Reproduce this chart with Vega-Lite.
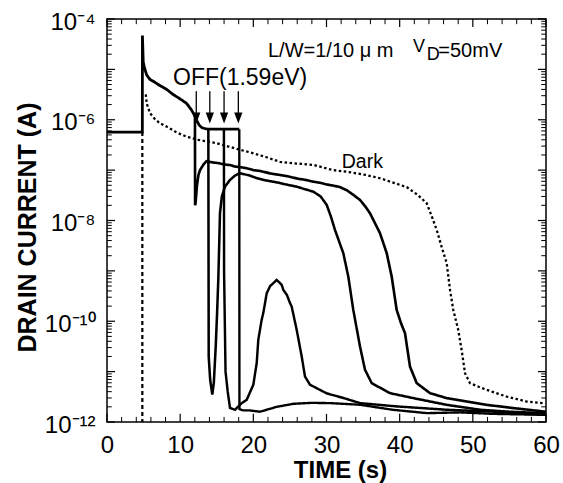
{
  "$schema": "https://vega.github.io/schema/vega-lite/v6.json",
  "width": 439,
  "height": 403,
  "autosize": {"type": "none"},
  "padding": {"left": 107, "top": 19, "right": 17, "bottom": 61},
  "background": "white",
  "config": {
    "view": {"stroke": "black", "strokeWidth": 1.5},
    "font": "Liberation Sans",
    "axis": {"labelColor": "black", "titleColor": "black", "labelFont": "Liberation Sans", "titleFont": "Liberation Sans"}
  },
  "datasets": {
    "curves": [
      {"s": "pre", "t": 0, "i": 5.7e-7}, {"s": "pre", "t": 4.83, "i": 5.7e-7}, {"s": "pre", "t": 4.84, "i": 4.7e-5},
      {"s": "pre", "t": 4.9, "i": 2.5e-5}, {"s": "pre", "t": 4.95, "i": 1.4e-5}, {"s": "pre", "t": 5.1, "i": 1.1e-5},
      {"s": "pre", "t": 5.43, "i": 7.7e-6}, {"s": "pre", "t": 5.88, "i": 6.3e-6}, {"s": "pre", "t": 6.5, "i": 5.6e-6},
      {"s": "pre", "t": 7.2, "i": 4.8e-6}, {"s": "pre", "t": 8.16, "i": 4.0e-6}, {"s": "pre", "t": 9.0, "i": 3.2e-6},
      {"s": "pre", "t": 9.8, "i": 2.7e-6}, {"s": "pre", "t": 10.43, "i": 2.35e-6}, {"s": "pre", "t": 10.89, "i": 2.1e-6},
      {"s": "pre", "t": 11.5, "i": 1.6e-6}, {"s": "pre", "t": 12.0, "i": 1.2e-6},
      {"s": "flat", "t": 12.0, "i": 1.2e-6}, {"s": "flat", "t": 12.3, "i": 9.5e-7}, {"s": "flat", "t": 12.6, "i": 7.8e-7},
      {"s": "flat", "t": 13.0, "i": 6.9e-7}, {"s": "flat", "t": 13.5, "i": 6.6e-7}, {"s": "flat", "t": 14.0, "i": 6.5e-7},
      {"s": "flat", "t": 18.08, "i": 6.5e-7},
      {"s": "A", "t": 12.02, "i": 1.2e-6}, {"s": "A", "t": 12.04, "i": 2e-8}, {"s": "A", "t": 12.1, "i": 2.2e-8},
      {"s": "A", "t": 12.3, "i": 5e-8}, {"s": "A", "t": 12.5, "i": 8e-8}, {"s": "A", "t": 12.71, "i": 1.0e-7},
      {"s": "A", "t": 13.2, "i": 1.3e-7}, {"s": "A", "t": 13.6, "i": 1.5e-7}, {"s": "A", "t": 14.5, "i": 1.42e-7},
      {"s": "A", "t": 15.2, "i": 1.38e-7}, {"s": "A", "t": 16.0, "i": 1.3e-7}, {"s": "A", "t": 16.8, "i": 1.26e-7},
      {"s": "A", "t": 17.5, "i": 1.18e-7}, {"s": "A", "t": 18.3, "i": 1.14e-7}, {"s": "A", "t": 19.09, "i": 1.09e-7},
      {"s": "A", "t": 20.0, "i": 1.0e-7}, {"s": "A", "t": 21.0, "i": 9.6e-8}, {"s": "A", "t": 22.3, "i": 8.6e-8},
      {"s": "A", "t": 23.64, "i": 8e-8}, {"s": "A", "t": 24.8, "i": 7.5e-8}, {"s": "A", "t": 26.0, "i": 6.8e-8},
      {"s": "A", "t": 27.1, "i": 6.4e-8}, {"s": "A", "t": 28.2, "i": 5.9e-8}, {"s": "A", "t": 29.1, "i": 5.6e-8},
      {"s": "A", "t": 30.0, "i": 5.2e-8}, {"s": "A", "t": 31.0, "i": 4.9e-8}, {"s": "A", "t": 31.84, "i": 4.6e-8},
      {"s": "A", "t": 32.76, "i": 4.0e-8}, {"s": "A", "t": 33.7, "i": 3.2e-8}, {"s": "A", "t": 34.58, "i": 2.56e-8},
      {"s": "A", "t": 35.3, "i": 1.9e-8}, {"s": "A", "t": 35.94, "i": 1.4e-8}, {"s": "A", "t": 36.6, "i": 9e-9},
      {"s": "A", "t": 37.31, "i": 5.6e-9}, {"s": "A", "t": 38.23, "i": 2.25e-9}, {"s": "A", "t": 38.91, "i": 7.7e-10},
      {"s": "A", "t": 39.59, "i": 1.68e-10}, {"s": "A", "t": 40.2, "i": 9e-11}, {"s": "A", "t": 40.73, "i": 5.8e-11},
      {"s": "A", "t": 41.41, "i": 1.26e-11}, {"s": "A", "t": 42.33, "i": 5.9e-12}, {"s": "A", "t": 44.14, "i": 3.74e-12},
      {"s": "A", "t": 46.43, "i": 2.98e-12}, {"s": "A", "t": 49.16, "i": 2.55e-12}, {"s": "A", "t": 51.89, "i": 2.19e-12},
      {"s": "A", "t": 55.53, "i": 1.89e-12}, {"s": "A", "t": 59.63, "i": 1.62e-12}, {"s": "A", "t": 60, "i": 1.6e-12},
      {"s": "B", "t": 13.85, "i": 6.5e-7}, {"s": "B", "t": 13.9, "i": 2e-11}, {"s": "B", "t": 14.1, "i": 6.9e-12},
      {"s": "B", "t": 14.39, "i": 3.5e-12}, {"s": "B", "t": 14.6, "i": 6e-12}, {"s": "B", "t": 14.86, "i": 3.15e-11},
      {"s": "B", "t": 15.05, "i": 1.5e-10}, {"s": "B", "t": 15.21, "i": 6.6e-10}, {"s": "B", "t": 15.35, "i": 4e-9},
      {"s": "B", "t": 15.44, "i": 1.4e-8}, {"s": "B", "t": 15.7, "i": 3e-8}, {"s": "B", "t": 16.13, "i": 4.7e-8},
      {"s": "B", "t": 16.81, "i": 6.4e-8}, {"s": "B", "t": 17.5, "i": 7.8e-8}, {"s": "B", "t": 18.18, "i": 8.7e-8},
      {"s": "B", "t": 19.5, "i": 7.8e-8}, {"s": "B", "t": 20.4, "i": 7.0e-8}, {"s": "B", "t": 21.36, "i": 6.4e-8},
      {"s": "B", "t": 22.4, "i": 6.0e-8}, {"s": "B", "t": 23.5, "i": 5.6e-8}, {"s": "B", "t": 24.7, "i": 5.1e-8},
      {"s": "B", "t": 25.93, "i": 4.7e-8}, {"s": "B", "t": 27.0, "i": 4.2e-8}, {"s": "B", "t": 28.2, "i": 3.74e-8},
      {"s": "B", "t": 29.2, "i": 3.0e-8}, {"s": "B", "t": 30.03, "i": 2.04e-8}, {"s": "B", "t": 30.6, "i": 1.2e-8},
      {"s": "B", "t": 31.16, "i": 6.5e-9}, {"s": "B", "t": 32.3, "i": 2.24e-9}, {"s": "B", "t": 32.98, "i": 7.7e-10},
      {"s": "B", "t": 33.66, "i": 1.68e-10}, {"s": "B", "t": 34.58, "i": 3.15e-11}, {"s": "B", "t": 35.26, "i": 1.09e-11},
      {"s": "B", "t": 36.18, "i": 5.9e-12}, {"s": "B", "t": 38.68, "i": 3.74e-12}, {"s": "B", "t": 41.86, "i": 2.98e-12},
      {"s": "B", "t": 46.43, "i": 2.19e-12}, {"s": "B", "t": 50.98, "i": 1.75e-12}, {"s": "B", "t": 55.0, "i": 1.6e-12},
      {"s": "B", "t": 59.63, "i": 1.5e-12}, {"s": "B", "t": 60, "i": 1.5e-12},
      {"s": "C", "t": 15.98, "i": 6.5e-7}, {"s": "C", "t": 16.0, "i": 1e-9}, {"s": "C", "t": 16.2, "i": 1e-11},
      {"s": "C", "t": 16.5, "i": 4e-12}, {"s": "C", "t": 16.81, "i": 1.9e-12}, {"s": "C", "t": 17.49, "i": 1.75e-12},
      {"s": "C", "t": 18.41, "i": 2.37e-12}, {"s": "C", "t": 19.09, "i": 2.75e-12}, {"s": "C", "t": 20.0, "i": 5.5e-12},
      {"s": "C", "t": 20.46, "i": 1.48e-11}, {"s": "C", "t": 20.68, "i": 4.3e-11}, {"s": "C", "t": 21.14, "i": 1.07e-10},
      {"s": "C", "t": 21.36, "i": 1.45e-10}, {"s": "C", "t": 21.83, "i": 3.6e-10}, {"s": "C", "t": 22.3, "i": 5e-10},
      {"s": "C", "t": 22.73, "i": 5.7e-10}, {"s": "C", "t": 23.19, "i": 6.6e-10}, {"s": "C", "t": 23.5, "i": 6e-10},
      {"s": "C", "t": 23.87, "i": 5.3e-10}, {"s": "C", "t": 24.1, "i": 4.2e-10}, {"s": "C", "t": 24.6, "i": 3.3e-10},
      {"s": "C", "t": 25.01, "i": 2.3e-10}, {"s": "C", "t": 25.24, "i": 1.96e-10}, {"s": "C", "t": 25.93, "i": 6.7e-11},
      {"s": "C", "t": 26.61, "i": 2.0e-11}, {"s": "C", "t": 27.06, "i": 8e-12}, {"s": "C", "t": 27.74, "i": 5.5e-12},
      {"s": "C", "t": 30.03, "i": 3.7e-12}, {"s": "C", "t": 32.3, "i": 3e-12}, {"s": "C", "t": 34.58, "i": 2.37e-12},
      {"s": "C", "t": 39.59, "i": 2.04e-12}, {"s": "C", "t": 46.43, "i": 1.75e-12}, {"s": "C", "t": 53.0, "i": 1.6e-12},
      {"s": "C", "t": 59.63, "i": 1.39e-12}, {"s": "C", "t": 60, "i": 1.4e-12},
      {"s": "D", "t": 18.08, "i": 6.5e-7}, {"s": "D", "t": 18.1, "i": 1.8e-12}, {"s": "D", "t": 18.6, "i": 1.7e-12},
      {"s": "D", "t": 19.5, "i": 1.7e-12}, {"s": "D", "t": 20.91, "i": 1.6e-12}, {"s": "D", "t": 23.2, "i": 2.0e-12},
      {"s": "D", "t": 25.5, "i": 2.3e-12}, {"s": "D", "t": 28.0, "i": 2.4e-12}, {"s": "D", "t": 30.5, "i": 2.37e-12},
      {"s": "D", "t": 34.6, "i": 2.2e-12}, {"s": "D", "t": 39.0, "i": 1.75e-12}, {"s": "D", "t": 43.7, "i": 1.5e-12},
      {"s": "D", "t": 48.3, "i": 1.55e-12}, {"s": "D", "t": 52.8, "i": 1.45e-12}, {"s": "D", "t": 59.6, "i": 1.39e-12},
      {"s": "D", "t": 60, "i": 1.4e-12},
      {"s": "dark", "t": 5.3, "i": 3.2e-6}, {"s": "dark", "t": 5.43, "i": 2.1e-6}, {"s": "dark", "t": 5.88, "i": 1.35e-6},
      {"s": "dark", "t": 6.5, "i": 1.05e-6}, {"s": "dark", "t": 7.2, "i": 8.6e-7}, {"s": "dark", "t": 8.16, "i": 7.3e-7},
      {"s": "dark", "t": 9.5, "i": 5.6e-7}, {"s": "dark", "t": 10.89, "i": 4.6e-7}, {"s": "dark", "t": 12.5, "i": 4e-7},
      {"s": "dark", "t": 14.99, "i": 3.42e-7}, {"s": "dark", "t": 17.5, "i": 2.7e-7}, {"s": "dark", "t": 20.0, "i": 2.16e-7},
      {"s": "dark", "t": 21.8, "i": 1.8e-7}, {"s": "dark", "t": 23.64, "i": 1.46e-7}, {"s": "dark", "t": 26.0, "i": 1.35e-7},
      {"s": "dark", "t": 28.2, "i": 1.27e-7}, {"s": "dark", "t": 30.9, "i": 1.0e-7}, {"s": "dark", "t": 32.76, "i": 9.3e-8},
      {"s": "dark", "t": 35.4, "i": 8e-8}, {"s": "dark", "t": 37.31, "i": 6.9e-8}, {"s": "dark", "t": 39.2, "i": 5.6e-8},
      {"s": "dark", "t": 40.96, "i": 4.6e-8}, {"s": "dark", "t": 42.5, "i": 3.2e-8}, {"s": "dark", "t": 43.69, "i": 2.2e-8},
      {"s": "dark", "t": 44.4, "i": 1.2e-8}, {"s": "dark", "t": 45.06, "i": 6.5e-9}, {"s": "dark", "t": 45.8, "i": 2.8e-9},
      {"s": "dark", "t": 46.43, "i": 1.42e-9}, {"s": "dark", "t": 46.9, "i": 4e-10}, {"s": "dark", "t": 47.33, "i": 1.68e-10},
      {"s": "dark", "t": 48.01, "i": 6.7e-11}, {"s": "dark", "t": 48.5, "i": 2.5e-11}, {"s": "dark", "t": 48.93, "i": 9.3e-12},
      {"s": "dark", "t": 49.61, "i": 5.9e-12}, {"s": "dark", "t": 50.8, "i": 5e-12}, {"s": "dark", "t": 51.89, "i": 4.36e-12},
      {"s": "dark", "t": 53.3, "i": 3.7e-12}, {"s": "dark", "t": 54.63, "i": 3.2e-12}, {"s": "dark", "t": 57.36, "i": 2.55e-12},
      {"s": "dark", "t": 59.63, "i": 2.37e-12},
      {"s": "vdash", "t": 4.83, "i": 5.7e-7}, {"s": "vdash", "t": 4.83, "i": 1e-12}
    ],
    "xmajor": [{"t": 0}, {"t": 10}, {"t": 20}, {"t": 30}, {"t": 40}, {"t": 50}, {"t": 60}],
    "xminor": [{"t": 2}, {"t": 4}, {"t": 6}, {"t": 8}, {"t": 12}, {"t": 14}, {"t": 16}, {"t": 18}, {"t": 22}, {"t": 24}, {"t": 26}, {"t": 28}, {"t": 32}, {"t": 34}, {"t": 36}, {"t": 38}, {"t": 42}, {"t": 44}, {"t": 46}, {"t": 48}, {"t": 52}, {"t": 54}, {"t": 56}, {"t": 58}],
    "ymajor": [{"t": 1e-12}, {"t": 1e-11}, {"t": 1e-10}, {"t": 1e-9}, {"t": 1e-8}, {"t": 1e-7}, {"t": 1e-6}, {"t": 1e-5}, {"t": 1e-4}],
    "yminor": [
      {"t": 2e-12}, {"t": 3e-12}, {"t": 4e-12}, {"t": 5e-12}, {"t": 6e-12}, {"t": 7e-12}, {"t": 8e-12}, {"t": 9e-12},
      {"t": 2e-11}, {"t": 3e-11}, {"t": 4e-11}, {"t": 5e-11}, {"t": 6e-11}, {"t": 7e-11}, {"t": 8e-11}, {"t": 9e-11},
      {"t": 2e-10}, {"t": 3e-10}, {"t": 4e-10}, {"t": 5e-10}, {"t": 6e-10}, {"t": 7e-10}, {"t": 8e-10}, {"t": 9e-10},
      {"t": 2e-9}, {"t": 3e-9}, {"t": 4e-9}, {"t": 5e-9}, {"t": 6e-9}, {"t": 7e-9}, {"t": 8e-9}, {"t": 9e-9},
      {"t": 2e-8}, {"t": 3e-8}, {"t": 4e-8}, {"t": 5e-8}, {"t": 6e-8}, {"t": 7e-8}, {"t": 8e-8}, {"t": 9e-8},
      {"t": 2e-7}, {"t": 3e-7}, {"t": 4e-7}, {"t": 5e-7}, {"t": 6e-7}, {"t": 7e-7}, {"t": 8e-7}, {"t": 9e-7},
      {"t": 2e-6}, {"t": 3e-6}, {"t": 4e-6}, {"t": 5e-6}, {"t": 6e-6}, {"t": 7e-6}, {"t": 8e-6}, {"t": 9e-6},
      {"t": 2e-5}, {"t": 3e-5}, {"t": 4e-5}, {"t": 5e-5}, {"t": 6e-5}, {"t": 7e-5}, {"t": 8e-5}, {"t": 9e-5}
    ],
    "arrows": [{"t": 12.2}, {"t": 14.05}, {"t": 16.0}, {"t": 17.95}]
  },
  "layer": [
    {
      "data": {"name": "curves"},
      "mark": {"type": "line", "strokeCap": "butt", "strokeJoin": "miter"},
      "encoding": {
        "x": {"field": "t", "type": "quantitative",
          "scale": {"type": "linear", "domain": [0, 60], "nice": false, "zero": false},
          "axis": {"title": "TIME (s)", "values": [0, 10, 20, 30, 40, 50, 60], "ticks": false, "domain": false, "grid": false,
            "labelFontSize": 24, "labelPadding": 11, "labelFlush": false,
            "titleFontSize": 24, "titleFontWeight": "bold", "titleX": 233, "titleY": 55, "titleAlign": "center", "titleBaseline": "alphabetic"}},
        "y": {"field": "i", "type": "quantitative",
          "scale": {"type": "log", "domain": [1e-12, 1e-4], "nice": false},
          "axis": {"title": "DRAIN CURRENT (A)", "values": [1e-12, 1e-10, 1e-8, 1e-6, 1e-4], "ticks": false, "domain": false, "grid": false,
            "labelFontSize": 24, "labelPadding": 12, "labelFlush": false, "labelOffset": 3,
            "labelExpr": "'10' + (datum.value < 1e-11 ? '⁻¹²' : datum.value < 1e-9 ? '⁻¹⁰' : datum.value < 1e-7 ? '⁻⁸' : datum.value < 1e-5 ? '⁻⁶' : '⁻⁴')",
            "titleFontSize": 25, "titleFontWeight": "bold", "titleAngle": 270, "titleX": -72, "titleY": 208, "titleAlign": "center", "titleBaseline": "alphabetic"}},
        "detail": {"field": "s", "type": "nominal"},
        "color": {"value": "black"},
        "strokeWidth": {"field": "s", "type": "nominal", "legend": null,
          "scale": {"domain": ["pre", "flat", "A", "B", "C", "D", "dark", "vdash"], "range": [2.8, 2.2, 2, 2, 1.1, 1.1, 0.8, 1]}},
        "strokeDash": {"field": "s", "type": "nominal", "legend": null,
          "scale": {"domain": ["pre", "flat", "A", "B", "C", "D", "dark", "vdash"], "range": [[1, 0], [1, 0], [1, 0], [1, 0], [1, 0], [1, 0], [2.5, 2.5], [4, 3]]}}
      }
    },
    {
      "data": {"name": "arrows"},
      "mark": {"type": "rule", "color": "black", "strokeWidth": 1.3},
      "encoding": {
        "x": {"field": "t", "type": "quantitative"},
        "y": {"datum": 3.7e-6, "type": "quantitative"},
        "y2": {"datum": 1.25e-6}
      }
    },
    {
      "data": {"name": "arrows"},
      "mark": {"type": "point", "shape": "M-0.75,-1L0.75,-1L0,1Z", "filled": true, "color": "black", "opacity": 1, "size": 121, "strokeWidth": 0},
      "encoding": {
        "x": {"field": "t", "type": "quantitative"},
        "y": {"datum": 1.086e-6, "type": "quantitative"}
      }
    },
    {
      "data": {"name": "xmajor"},
      "mark": {"type": "rule", "color": "black", "strokeWidth": 1.2},
      "encoding": {"x": {"field": "t", "type": "quantitative"}, "y": {"datum": 1e-12, "type": "quantitative"}, "y2": {"datum": 1.45e-12}}
    },
    {
      "data": {"name": "xminor"},
      "mark": {"type": "rule", "color": "black", "strokeWidth": 1},
      "encoding": {"x": {"field": "t", "type": "quantitative"}, "y": {"datum": 1e-12, "type": "quantitative"}, "y2": {"datum": 1.26e-12}}
    },
    {
      "data": {"name": "xmajor"},
      "mark": {"type": "rule", "color": "black", "strokeWidth": 1.2},
      "encoding": {"x": {"field": "t", "type": "quantitative"}, "y": {"datum": 1e-4, "type": "quantitative"}, "y2": {"datum": 6.9e-5}}
    },
    {
      "data": {"name": "xminor"},
      "mark": {"type": "rule", "color": "black", "strokeWidth": 1},
      "encoding": {"x": {"field": "t", "type": "quantitative"}, "y": {"datum": 1e-4, "type": "quantitative"}, "y2": {"datum": 7.9e-5}}
    },
    {
      "data": {"name": "ymajor"},
      "mark": {"type": "rule", "color": "black", "strokeWidth": 1.2},
      "encoding": {"y": {"field": "t", "type": "quantitative"}, "x": {"datum": 0, "type": "quantitative"}, "x2": {"datum": 1.1}}
    },
    {
      "data": {"name": "yminor"},
      "mark": {"type": "rule", "color": "black", "strokeWidth": 1},
      "encoding": {"y": {"field": "t", "type": "quantitative"}, "x": {"datum": 0, "type": "quantitative"}, "x2": {"datum": 0.65}}
    },
    {
      "data": {"name": "ymajor"},
      "mark": {"type": "rule", "color": "black", "strokeWidth": 1.2},
      "encoding": {"y": {"field": "t", "type": "quantitative"}, "x": {"datum": 60, "type": "quantitative"}, "x2": {"datum": 58.9}}
    },
    {
      "data": {"name": "yminor"},
      "mark": {"type": "rule", "color": "black", "strokeWidth": 1},
      "encoding": {"y": {"field": "t", "type": "quantitative"}, "x": {"datum": 60, "type": "quantitative"}, "x2": {"datum": 59.35}}
    },
    {
      "data": {"values": [{"label": "OFF(1.59eV)", "t": 9.02, "i": 4.9e-6}]},
      "mark": {"type": "text", "align": "left", "baseline": "alphabetic", "fontSize": 23, "font": "Liberation Sans", "color": "black"},
      "encoding": {"x": {"field": "t", "type": "quantitative"}, "y": {"field": "i", "type": "quantitative"}, "text": {"field": "label"}}
    },
    {
      "data": {"values": [{"label": "L/W=1/10 μ m", "t": 22.0, "i": 1.76e-5}, {"label": "=50mV", "t": 45.28, "i": 1.786e-5}]},
      "mark": {"type": "text", "align": "left", "baseline": "alphabetic", "fontSize": 20, "font": "Liberation Sans", "color": "black"},
      "encoding": {"x": {"field": "t", "type": "quantitative"}, "y": {"field": "i", "type": "quantitative"}, "text": {"field": "label"}}
    },
    {
      "data": {"values": [{"label": "V", "t": 41.82, "i": 2.21e-5}, {"label": "D", "t": 43.69, "i": 1.536e-5}]},
      "mark": {"type": "text", "align": "left", "baseline": "alphabetic", "fontSize": 18, "font": "Liberation Sans", "color": "black"},
      "encoding": {"x": {"field": "t", "type": "quantitative"}, "y": {"field": "i", "type": "quantitative"}, "text": {"field": "label"}}
    },
    {
      "data": {"values": [{"label": "Dark", "t": 32.08, "i": 1.107e-7}]},
      "mark": {"type": "text", "align": "left", "baseline": "alphabetic", "fontSize": 19.5, "font": "Liberation Sans", "color": "black"},
      "encoding": {"x": {"field": "t", "type": "quantitative"}, "y": {"field": "i", "type": "quantitative"}, "text": {"field": "label"}}
    }
  ]
}
